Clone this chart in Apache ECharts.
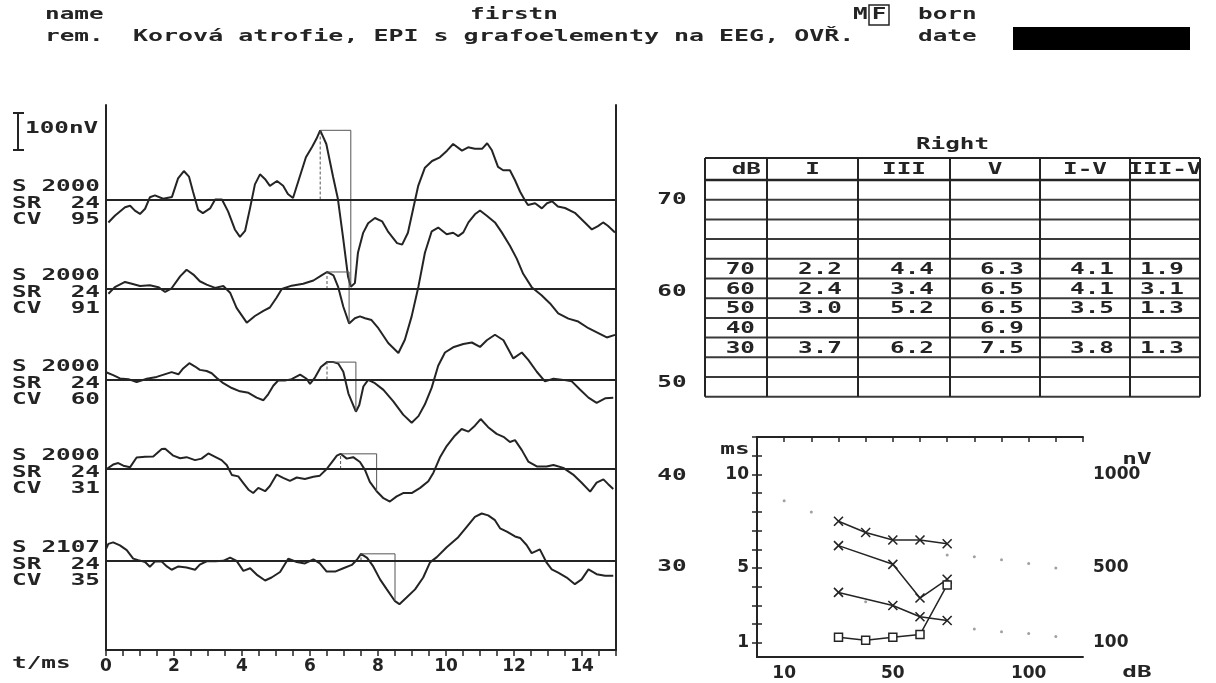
<!DOCTYPE html>
<html>
<head>
<meta charset="utf-8">
<script src="https://cdn.jsdelivr.net/npm/echarts@6/dist/echarts.min.js"></script>
<style>
  html, body { margin: 0; padding: 0; background: #fff; }
  #c { width: 1216px; height: 683px; }
</style>
</head>
<body>
<div id="c"></div>
<script>
// ---- Recording parameters of the five averaged traces (top to bottom) ----
const levels = [70, 60, 50, 40, 30];          // stimulus level, dB
const stimCount = [2000, 2000, 2000, 2000, 2107];
const stimRate = [24, 24, 24, 24, 24];
const cvValues = [95, 91, 60, 31, 35];

// ---- Averaged responses: [time ms, amplitude nV] ----
const trace70 = [[0.07,-62],[0.26,-44],[0.56,-21],[0.71,-17],[0.85,-30],[1.0,-39],[1.15,-25],[1.29,6],[1.44,11],[1.68,2],[1.94,7],[2.12,57],[2.29,77],[2.44,62],[2.56,21],[2.71,-28],[2.85,-37],[3.06,-24],[3.21,0],[3.41,0],[3.59,-32],[3.79,-81],[3.94,-101],[4.09,-85],[4.24,-22],[4.38,41],[4.53,68],[4.68,55],[4.82,37],[5.03,50],[5.21,37],[5.35,15],[5.5,4],[5.71,65],[5.88,114],[6.06,142],[6.19,164],[6.3,187],[6.48,150],[6.68,61],[6.82,2],[6.97,-101],[7.12,-209],[7.2,-236],[7.32,-226],[7.41,-144],[7.56,-91],[7.71,-64],[7.91,-50],[8.12,-59],[8.29,-86],[8.56,-118],[8.71,-122],[8.88,-90],[9.03,-27],[9.18,36],[9.38,86],[9.59,104],[9.82,114],[10.03,132],[10.21,150],[10.47,132],[10.65,141],[10.85,137],[11.06,137],[11.21,152],[11.35,133],[11.53,88],[11.68,79],[11.88,79],[12.03,52],[12.18,21],[12.32,-2],[12.41,-15],[12.62,-10],[12.82,-24],[12.97,-10],[13.12,-5],[13.29,-19],[13.5,-23],[13.79,-36],[14.09,-63],[14.29,-81],[14.47,-72],[14.62,-62],[14.76,-71],[14.97,-89]];
const trace60 = [[0.07,-13],[0.26,5],[0.56,19],[0.76,14],[1.0,8],[1.29,10],[1.54,5],[1.74,-8],[1.93,2],[2.18,34],[2.37,52],[2.57,39],[2.76,21],[2.96,12],[3.21,3],[3.45,8],[3.65,-10],[3.84,-51],[4.14,-91],[4.38,-73],[4.63,-59],[4.82,-50],[5.02,-23],[5.17,0],[5.46,9],[5.8,14],[6.1,23],[6.34,37],[6.5,46],[6.69,37],[6.83,5],[6.98,-48],[7.15,-93],[7.32,-79],[7.47,-74],[7.62,-79],[7.81,-84],[8.01,-106],[8.3,-146],[8.6,-173],[8.79,-137],[8.99,-74],[9.19,7],[9.38,98],[9.58,156],[9.77,166],[10.02,148],[10.21,152],[10.36,143],[10.51,153],[10.66,180],[10.85,202],[11.0,212],[11.2,198],[11.44,180],[11.64,153],[11.88,117],[12.08,82],[12.27,41],[12.52,5],[12.81,-17],[13.06,-39],[13.3,-66],[13.6,-80],[13.89,-88],[14.19,-106],[14.48,-119],[14.73,-131],[14.97,-124]];
const trace50 = [[0.02,19],[0.21,12],[0.41,3],[0.66,1],[0.9,-7],[1.2,2],[1.49,7],[1.79,16],[1.93,20],[2.13,14],[2.27,30],[2.45,44],[2.62,35],[2.76,26],[2.96,23],[3.11,17],[3.26,4],[3.45,-10],[3.7,-23],[3.94,-32],[4.19,-36],[4.43,-49],[4.63,-56],[4.77,-40],[4.92,-17],[5.07,-2],[5.26,-3],[5.46,1],[5.71,13],[5.9,2],[6.0,-12],[6.15,6],[6.32,34],[6.5,47],[6.69,47],[6.83,43],[6.98,21],[7.13,-38],[7.35,-87],[7.45,-69],[7.57,-19],[7.71,-1],[7.91,-10],[8.16,-28],[8.45,-59],[8.74,-95],[8.99,-117],[9.19,-99],[9.38,-67],[9.58,-22],[9.77,37],[9.97,73],[10.21,87],[10.51,96],[10.76,100],[11.0,88],[11.2,106],[11.44,121],[11.69,106],[11.98,57],[12.23,73],[12.42,53],[12.67,21],[12.91,-5],[13.16,2],[13.45,-1],[13.7,-5],[13.94,-27],[14.19,-49],[14.43,-63],[14.68,-51],[14.92,-49]];
const trace40 = [[0.02,0],[0.21,12],[0.36,16],[0.51,9],[0.71,5],[0.9,31],[1.15,33],[1.39,34],[1.64,54],[1.74,55],[1.98,36],[2.18,29],[2.37,32],[2.62,24],[2.81,28],[3.01,42],[3.21,33],[3.4,24],[3.55,11],[3.7,-16],[3.89,-20],[4.04,-38],[4.19,-56],[4.33,-65],[4.48,-51],[4.68,-60],[4.82,-46],[5.02,-15],[5.21,-24],[5.41,-32],[5.61,-23],[5.85,-27],[6.1,-21],[6.29,-18],[6.49,0],[6.64,18],[6.79,36],[6.9,41],[7.08,28],[7.27,32],[7.47,19],[7.62,-3],[7.76,-35],[7.96,-60],[8.16,-79],[8.35,-88],[8.55,-74],[8.74,-65],[8.99,-65],[9.24,-51],[9.48,-33],[9.63,-10],[9.82,31],[10.02,62],[10.26,90],[10.46,108],[10.66,101],[10.85,117],[11.02,135],[11.24,113],[11.49,95],[11.69,87],[11.88,73],[12.03,78],[12.23,51],[12.42,20],[12.67,7],[12.96,7],[13.16,11],[13.45,3],[13.74,-15],[13.99,-37],[14.24,-61],[14.43,-37],[14.63,-28],[14.77,-41],[14.92,-54]];
const trace30 = [[0,31],[0.07,45],[0.21,49],[0.41,41],[0.61,28],[0.8,5],[0.95,1],[1.15,-4],[1.29,-17],[1.44,-3],[1.64,-3],[1.79,-16],[1.93,-25],[2.13,-16],[2.37,-19],[2.62,-25],[2.76,-11],[2.96,-2],[3.21,-2],[3.45,-1],[3.65,8],[3.84,-1],[4.04,-28],[4.24,-21],[4.43,-38],[4.68,-54],[4.87,-46],[5.12,-31],[5.36,5],[5.61,-4],[5.85,-8],[6.1,3],[6.29,-8],[6.49,-30],[6.74,-30],[6.98,-21],[7.23,-12],[7.38,2],[7.5,18],[7.68,7],[7.86,-16],[8.06,-51],[8.26,-78],[8.5,-110],[8.63,-118],[8.84,-100],[9.09,-78],[9.33,-46],[9.53,-5],[9.73,9],[10.02,36],[10.36,63],[10.61,91],[10.85,118],[11.05,127],[11.24,122],[11.44,109],[11.59,87],[11.79,78],[12.03,65],[12.18,61],[12.37,42],[12.52,20],[12.76,30],[12.96,-6],[13.11,-24],[13.3,-33],[13.55,-46],[13.79,-64],[13.99,-51],[14.19,-24],[14.43,-37],[14.68,-41],[14.92,-41]];
const traces = [trace70, trace60, trace50, trace40, trace30];

// ---- Peak latencies, "Right" ear (ms); null = not identified ----
const latI   = [2.2, 2.4, 3.0, null, 3.7];
const latIII = [4.4, 3.4, 5.2, null, 6.2];
const latV   = [6.3, 6.5, 6.5, 6.9, 7.5];
const ivlIV  = [4.1, 4.1, 3.5, null, 3.8];
const ivlIIIV = [1.9, 3.1, 1.3, null, 1.3];

// Trough following wave V (ms) and wave V amplitude (nV)
const troughV = [7.2, 7.15, 7.35, 7.96, 8.5];
const ampV = [410, 145, 130, 115, 130];

// Normative latency points [dB, ms]
const normV = [[10, 8.6], [20, 8.0], [70, 5.7], [80, 5.6], [90, 5.45], [100, 5.25], [110, 5.0]];
const normI = [[40, 3.2], [80, 1.75], [90, 1.6], [100, 1.5], [110, 1.35]];

// Tick labels
const timeLabels = [0, 2, 4, 6, 8, 10, 12, 14];
const dbLabels = [10, 50, 100];
const msLabels = [1, 5, 10];
const nvLabels = [100, 500, 1000];
const tableHeader = ['dB', 'I', 'III', 'V', 'I-V', 'III-V'];

// ---- Layout ----
const INK = '#242424';
const MONO = '"DejaVu Sans Mono", monospace';
const AXFONT = { fontFamily: 'DejaVu Sans', fontWeight: 'bold', fontSize: 17, color: INK };
const PANEL = { left: 106, right: 616, top: 105, bottom: 650 };
const PX_PER_NV = 0.37;
const BASE_Y = [199.5, 289, 379.5, 469, 560.5];
const LEVEL_LABEL_Y = [200, 292, 383, 476, 567];
const PLOT = { left: 757, right: 1083, top: 437, bottom: 657 };
const TABLE = { cols: [705, 767, 858, 950, 1040, 1130, 1200], top: 158, headH: 22, rowH: 19.7, rows: 11, firstDataRow: 4 };

function valueAt(tr, t) {
  for (let k = 1; k < tr.length; k++) {
    if (tr[k][0] >= t) {
      const [x0, y0] = tr[k - 1], [x1, y1] = tr[k];
      return y0 + (y1 - y0) * (t - x0) / (x1 - x0);
    }
  }
  return tr[tr.length - 1][1];
}

const chart = echarts.init(document.getElementById('c'));

const grids = [], xAxes = [], yAxes = [], series = [];
const panelGrid = {
  left: PANEL.left, top: PANEL.top,
  width: PANEL.right - PANEL.left, height: PANEL.bottom - PANEL.top
};

// one overlapping grid per trace so each has its own zero line
traces.forEach((tr, i) => {
  grids.push(Object.assign({}, panelGrid));
  xAxes.push({ type: 'value', gridIndex: i, min: 0, max: 15, show: false });
  yAxes.push({
    type: 'value', gridIndex: i, show: false,
    min: -(PANEL.bottom - BASE_Y[i]) / PX_PER_NV,
    max: (BASE_Y[i] - PANEL.top) / PX_PER_NV
  });
  series.push({
    type: 'line', xAxisIndex: i, yAxisIndex: i, data: tr,
    showSymbol: false, smooth: false, silent: true,
    lineStyle: { color: INK, width: 2 },
    markLine: {
      silent: true, symbol: 'none', label: { show: false },
      lineStyle: { color: INK, width: 2, type: 'solid' },
      data: [{ yAxis: 0 }]
    }
  });
  const peak = valueAt(tr, latV[i]);
  const trough = valueAt(tr, troughV[i]);
  // wave V latency cursor
  series.push({
    type: 'line', xAxisIndex: i, yAxisIndex: i, showSymbol: false, silent: true,
    data: [[latV[i], 0], [latV[i], peak]],
    lineStyle: { color: '#555', width: 1, type: [3, 2] }
  });
  // V / trough amplitude bracket
  series.push({
    type: 'line', xAxisIndex: i, yAxisIndex: i, showSymbol: false, silent: true,
    data: [[latV[i], peak], [troughV[i], peak], [troughV[i], trough]],
    lineStyle: { color: '#555', width: 1 }
  });
});

// frame of the trace panel with the time axis
const halfMs = Array.from({ length: 31 }, (_, k) => k * 0.5);
grids.push(Object.assign({}, panelGrid));
xAxes.push({
  type: 'value', gridIndex: 5, min: 0, max: 15,
  axisLine: { show: true, lineStyle: { color: INK, width: 2 } },
  axisTick: { show: true, length: 6, customValues: halfMs, lineStyle: { color: INK, width: 1.5 } },
  axisLabel: Object.assign({ customValues: timeLabels, margin: 8 }, AXFONT),
  splitLine: { show: false }
});
yAxes.push({
  type: 'value', gridIndex: 5, position: 'left', min: 0, max: 1,
  axisLine: { show: true, lineStyle: { color: INK, width: 2 } },
  axisTick: { show: false }, axisLabel: { show: false }, splitLine: { show: false }
});
yAxes.push({
  type: 'value', gridIndex: 5, position: 'right', min: 0, max: 1,
  axisLine: { show: true, lineStyle: { color: INK, width: 2 } },
  axisTick: { show: false }, axisLabel: { show: false }, splitLine: { show: false }
});

// latency / amplitude plot
grids.push({
  left: PLOT.left, top: PLOT.top,
  width: PLOT.right - PLOT.left, height: PLOT.bottom - PLOT.top
});
const msTicks = Array.from({ length: 12 }, (_, k) => k + 1);
const nvTicks = msTicks.map(v => v * 100);
const plain = v => String(v);
xAxes.push({
  type: 'value', gridIndex: 6, position: 'bottom', min: 0, max: 120,
  axisLine: { show: true, lineStyle: { color: INK, width: 2 } },
  axisTick: { show: false },
  axisLabel: Object.assign({ customValues: dbLabels, margin: 8, formatter: plain }, AXFONT),
  splitLine: { show: false }
});
xAxes.push({
  type: 'value', gridIndex: 6, position: 'top', min: 0, max: 120, interval: 10,
  axisLine: { show: true, lineStyle: { color: INK, width: 2 } },
  axisTick: { show: true, inside: true, length: 5, lineStyle: { color: INK, width: 1.5 } },
  axisLabel: { show: false }, splitLine: { show: false }
});
yAxes.push({
  type: 'value', gridIndex: 6, position: 'left', min: 0.25, max: 12,
  axisLine: { show: true, lineStyle: { color: INK, width: 2 } },
  axisTick: { show: true, inside: true, length: 5, customValues: msTicks, lineStyle: { color: INK, width: 1.5 } },
  axisLabel: Object.assign({ customValues: msLabels, margin: 8, formatter: plain }, AXFONT),
  splitLine: { show: false }
});
yAxes.push({
  type: 'value', gridIndex: 6, position: 'right', min: 25, max: 1200,
  axisLine: { show: true, lineStyle: { color: INK, width: 2 } },
  axisTick: { show: true, inside: true, length: 5, customValues: nvTicks, lineStyle: { color: INK, width: 1.5 } },
  axisLabel: Object.assign({ customValues: nvLabels, margin: 10, formatter: plain }, AXFONT),
  splitLine: { show: false }
});

const cross = 'path://M0,0L10,10M0,10L10,0';
function latSeries(arr) {
  return {
    type: 'line', xAxisIndex: 6, yAxisIndex: 7, silent: true,
    data: levels.map((d, i) => [d, arr[i]]).filter(p => p[1] != null),
    symbol: cross, symbolSize: 9, showAllSymbol: true,
    lineStyle: { color: INK, width: 1.5 },
    itemStyle: { color: INK, borderColor: INK, borderWidth: 1.6 }
  };
}
series.push(latSeries(latV), latSeries(latIII), latSeries(latI));
series.push({
  type: 'line', xAxisIndex: 6, yAxisIndex: 8, silent: true,
  data: levels.map((d, i) => [d, ampV[i]]),
  symbol: 'rect', symbolSize: 8, showAllSymbol: true,
  lineStyle: { color: INK, width: 1.5 },
  itemStyle: { color: '#fff', borderColor: INK, borderWidth: 1.5 }
});
series.push({
  type: 'scatter', xAxisIndex: 6, yAxisIndex: 7, silent: true,
  data: normV.concat(normI), symbol: 'circle', symbolSize: 3,
  itemStyle: { color: '#8a8a8a' }
});

chart.setOption({
  animation: false,
  backgroundColor: '#fff',
  grid: grids, xAxis: xAxes, yAxis: yAxes, series: series
});

// ---- Text annotations, scale bar and latency table ----
function txt(x, y, s, align, sx, size) {
  return {
    type: 'text', x: x, y: y, scaleX: sx || 1.52, silent: true,
    style: {
      text: s, fill: INK, font: 'bold ' + (size || 16) + 'px ' + MONO,
      align: align || 'left', verticalAlign: 'middle',
      textAlign: align || 'left', textVerticalAlign: 'middle'
    }
  };
}
function hline(x1, x2, y, w, c) {
  return { type: 'line', silent: true, shape: { x1: x1, y1: y, x2: x2, y2: y }, style: { stroke: c || INK, lineWidth: w || 2 } };
}
function vline(x, y1, y2, w, c) {
  return { type: 'line', silent: true, shape: { x1: x, y1: y1, x2: x, y2: y2 }, style: { stroke: c || INK, lineWidth: w || 2 } };
}

const g = [];
// header
g.push(txt(45, 15, 'name'));
g.push(txt(470, 15, 'firstn'));
g.push(txt(853, 15, 'M'));
g.push({ type: 'rect', silent: true, shape: { x: 869, y: 5, width: 20, height: 20 }, style: { fill: 'none', stroke: INK, lineWidth: 1.5 } });
g.push(txt(879, 15, 'F', 'center'));
g.push(txt(918, 15, 'born'));
g.push(txt(45, 37, 'rem.'));
g.push(txt(133, 37, 'Korová atrofie, EPI s grafoelementy na EEG, OVŘ.', 'left', 1.56));
g.push(txt(918, 37, 'date'));
g.push({ type: 'rect', silent: true, shape: { x: 1013, y: 27, width: 177, height: 23 }, style: { fill: '#000' } });

// 100 nV calibration bar, length taken from the first trace's scale
const p0 = chart.convertToPixel({ xAxisIndex: 0, yAxisIndex: 0 }, [0, 0]);
const p1 = chart.convertToPixel({ xAxisIndex: 0, yAxisIndex: 0 }, [0, 100]);
const barLen = p0[1] - p1[1];
const barTop = 113;
g.push(vline(18, barTop, barTop + barLen, 2));
g.push(hline(13, 24, barTop, 2));
g.push(hline(13, 24, barTop + barLen, 2));
g.push(txt(25, 129, '100nV'));

// per-trace acquisition labels and level labels
levels.forEach((lv, i) => {
  const b = BASE_Y[i];
  g.push(txt(12, b - 13, 'S'));
  g.push(txt(100, b - 13, String(stimCount[i]), 'right'));
  g.push(txt(12, b + 4, 'SR'));
  g.push(txt(100, b + 4, String(stimRate[i]), 'right'));
  g.push(txt(12, b + 20, 'CV'));
  g.push(txt(100, b + 20, String(cvValues[i]), 'right'));
  g.push(txt(672, LEVEL_LABEL_Y[i], String(lv), 'center'));
});
g.push(txt(12, 664, 't/ms'));

// plot captions
g.push(txt(735, 450, 'ms', 'center'));
g.push(txt(1137, 460, 'nV', 'center'));
g.push(txt(1137, 673, 'dB', 'center'));

// latency table
const C = TABLE.cols;
const tTop = TABLE.top, hBot = TABLE.top + TABLE.headH;
const tBot = hBot + TABLE.rows * TABLE.rowH;
g.push(txt((C[0] + C[C.length - 1]) / 2, 145, 'Right', 'center'));
g.push(hline(C[0], C[C.length - 1], tTop, 2));
g.push(hline(C[0], C[C.length - 1], hBot, 2.5));
for (let r = 1; r <= TABLE.rows; r++) {
  g.push(hline(C[0], C[C.length - 1], hBot + r * TABLE.rowH, 2, '#3a3a3a'));
}
C.forEach(x => g.push(vline(x, tTop, tBot, 2)));
tableHeader.forEach((h, k) => {
  if (k === 0) g.push(txt(C[1] - 6, tTop + 12, h, 'right'));
  else g.push(txt((C[k] + C[k + 1]) / 2, tTop + 12, h, 'center'));
});
const tableCols = [levels, latI, latIII, latV, ivlIV, ivlIIIV];
levels.forEach((lv, i) => {
  const yMid = hBot + (TABLE.firstDataRow + i) * TABLE.rowH + 11;
  tableCols.forEach((arr, k) => {
    const v = arr[i];
    if (v == null) return;
    const s = k === 0 ? String(v) : v.toFixed(1);
    g.push(txt(C[k + 1] - (k === 0 ? 12 : 16), yMid, s, 'right'));
  });
});

chart.setOption({ graphic: { elements: g } });
</script>
</body>
</html>
